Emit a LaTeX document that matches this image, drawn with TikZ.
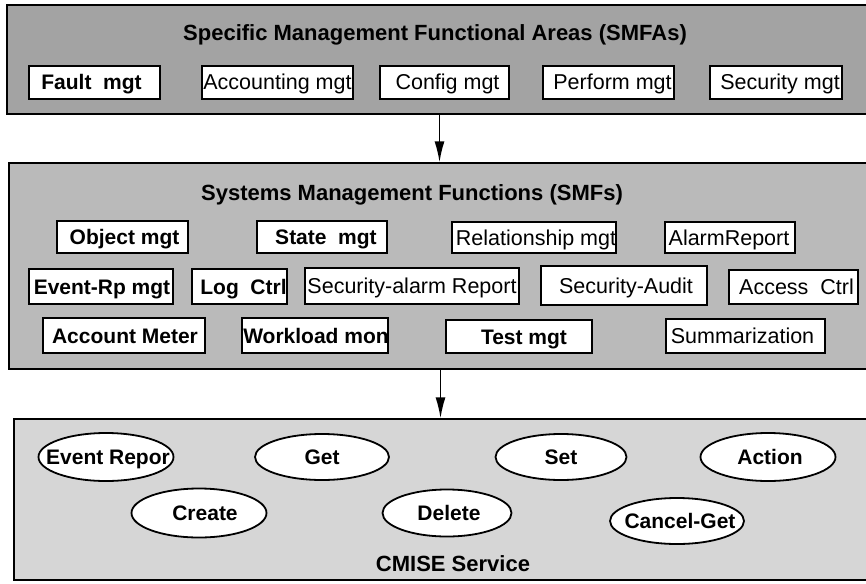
\documentclass[tikz,border=0pt]{standalone}
\usepackage{fontspec}
\setmainfont{Liberation Sans}
\usetikzlibrary{arrows.meta,shapes.geometric,fit}

\tikzset{
  panel/.style={draw=black, line width=1.4pt, inner sep=0pt},
  box/.style={draw=black, fill=white, line width=1.8pt, inner sep=0pt},
  oval/.style={ellipse, draw=black, fill=white, line width=1.8pt, inner sep=0pt},
  boldtxt/.style={font=\fontsize{21}{24}\selectfont\bfseries, inner sep=0pt},
  regtxt/.style={font=\fontsize{21.5}{24}\selectfont, inner sep=0pt},
  titletxt/.style={font=\fontsize{22}{26}\selectfont\bfseries, inner sep=0pt, anchor=base},
  arr/.style={line width=1.6pt, -{Latex[length=21pt,width=10pt]}},
}

% rectangle box: [text style]{name}{left}{top}{right}{bottom}{text x-offset}{text}
\newcommand\mbx[8][regtxt]{%
  \node[box, fit={(#3,#4) (#5,#6)}] (#2) {};
  \node[#1, anchor=base, xshift=#7pt, yshift=-7.5pt] at (#2.center) {#8};}

% oval: [text style]{name}{cx}{cy}{width}{height}{text x-offset}{text}
\newcommand\ovl[8][boldtxt]{%
  \node[oval, minimum width=#5pt, minimum height=#6pt] (#2) at (#3,#4) {};
  \node[#1, anchor=base, xshift=#7pt, yshift=-7.5pt] at (#2.center) {#8};}

\begin{document}
\begin{tikzpicture}[x=1pt, y=-1pt]
  \clip (0,0) rectangle (866,583);
  \fill[white] (0,0) rectangle (866,583);

  % the three layers
  \node[panel, fill=black!36, fit={(7,5) (872,114)}] (smfa) {};
  \node[panel, fill=black!27, fit={(9,163) (872,369)}] (smf) {};
  \node[panel, fill=black!16, fit={(14,419) (872,580)}] (cmise) {};

  % headings
  \node[titletxt] (t1) at (435,41) {Specific Management Functional Areas (SMFAs)};
  \node[titletxt] (t2) at (412,200) {Systems Management Functions (SMFs)};
  \node[titletxt] (t3) at (453,571) {CMISE Service};

  % SMFAs
  \mbx[boldtxt]{fault}{29}{66}{160}{99}{-3}{Fault~~mgt}
  \mbx{acct}{202}{66}{353}{99}{0}{Accounting mgt}
  \mbx{conf}{380}{66}{509}{99}{3}{Config mgt}
  \mbx{perf}{543}{66}{674}{99}{4}{Perform mgt}
  \mbx{secm}{710}{66}{842}{99}{4}{Security mgt}

  % SMFs, first row
  \mbx[boldtxt]{obj}{57}{221}{188}{253}{2}{Object mgt}
  \mbx[boldtxt]{state}{257}{221}{387}{253}{4}{State~~mgt}
  \mbx{rel}{452}{222}{616}{253}{2}{Relationship mgt}
  \mbx{alarm}{665}{222}{795}{253}{-1}{AlarmReport}

  % SMFs, second row
  \mbx[boldtxt]{evrp}{29}{269}{173}{304}{1}{Event-Rp mgt}
  \mbx[boldtxt]{logc}{192}{269}{287}{304}{4}{Log~~Ctrl}
  \mbx{secal}{305}{268}{519}{304}{0}{Security-alarm Report}
  \mbx{secau}{541}{266}{707}{305}{2}{Security-Audit}
  \mbx{accc}{729}{270}{858}{304}{3}{Access~~Ctrl}

  % SMFs, third row
  \mbx[boldtxt]{accm}{43}{318}{205}{353}{1}{Account Meter}
  \mbx[boldtxt]{work}{242}{318}{388}{353}{1}{Workload mon}
  \mbx[boldtxt]{test}{446}{320}{592}{353}{5}{Test mgt}
  \mbx{summ}{666}{319}{825}{353}{-3}{Summarization}

  % CMISE services
  \ovl{evr}{106}{457}{135}{48}{2}{Event Repor}
  \ovl{get}{322}{457}{134}{46}{0}{Get}
  \ovl{set}{561}{457}{131}{46}{0}{Set}
  \ovl{act}{768}{457}{135}{48}{2}{Action}
  \ovl{cre}{199}{513}{135}{49}{6}{Create}
  \ovl{del}{447}{513}{129}{47}{2}{Delete}
  \ovl{can}{677}{521}{134}{46}{3}{Cancel-Get}

  % flow between layers
  \draw[arr] (smfa.south) -- (smfa.south |- smf.north);
  \draw[arr] (smf.south) -- (smf.south |- cmise.north);
\end{tikzpicture}
\end{document}
